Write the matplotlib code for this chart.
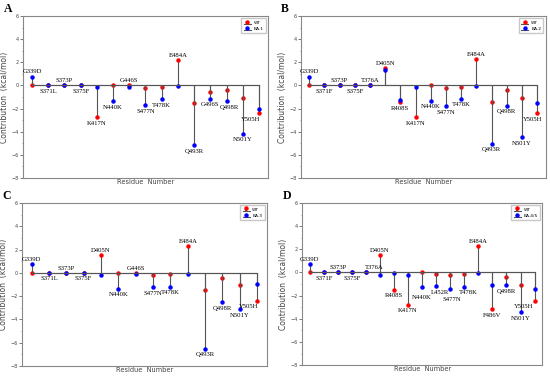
import matplotlib
matplotlib.use("Agg")
import matplotlib.pyplot as plt
from matplotlib.ticker import MultipleLocator

# panel A : WT vs BA.1
mut_a = ["G339D", "S371L", "S373P", "S375F", "K417N", "N440K", "G446S", "S477N",
         "T478K", "E484A", "Q493R", "G496S", "Q498R", "N501Y", "Y505H"]
wt_a = [0, 0, 0, 0, -2.75, 0, 0, -0.23, -0.14, 2.24, -1.49, -0.57, -0.43, -1.09, -2.41]
ba1 = [0.77, 0, 0, 0, -0.14, -1.35, -0.14, -1.72, -1.18, -0.09, -5.19, -1.15, -1.35, -4.19, -2.04]

# panel B : WT vs BA.2
mut_b = ["G339D", "S371F", "S373P", "S375F", "T376A", "D405N", "R408S", "K417N",
         "N440K", "S477N", "T478K", "E484A", "Q493R", "Q498R", "N501Y", "Y505H"]
wt_b = [0, 0, 0, 0, 0, 1.5, -1.47, -2.75, 0, -0.2, -0.1, 2.28, -1.47, -0.43, -1.1, -2.4]
ba2 = [0.77, 0, 0, 0, 0, 1.36, -1.3, -0.15, -1.33, -1.82, -1.16, -0.05, -5.06, -1.76, -4.48, -1.5]

# panel C : WT vs BA.3
mut_c = ["G339D", "S371L", "S373P", "S375F", "D405N", "N440K", "G446S", "S477N",
         "T478K", "E484A", "Q493R", "Q498R", "N501Y", "Y505H"]
wt_c = [0, 0, 0, 0, 1.49, 0, 0, -0.17, -0.11, 2.27, -1.49, -0.43, -1.09, -2.41]
ba3 = [0.75, 0, 0, 0, -0.23, -1.35, -0.11, -1.26, -1.2, -0.06, -6.51, -2.55, -3.13, -1.0]

# panel D : WT vs BA.4/5
mut_d = ["G339D", "S371F", "S373P", "S375F", "T376A", "D405N", "R408S", "K417N",
         "N440K", "L452R", "S477N", "T478K", "E484A", "F486V", "Q498R", "N501Y", "Y505H"]
wt_d = [0, 0, 0, 0, 0, 1.51, -1.51, -2.81, 0, -0.09, -0.23, -0.12, 2.26, -3.16, -0.43, -1.1, -2.43]
ba45 = [0.7, 0, 0, 0, 0, -0.23, -0.03, -0.2, -1.28, -1.19, -1.42, -1.22, -0.06, -1.1, -1.1, -3.42, -1.45]

# names written above their stem, all others go below
above_a = {"G339D", "S373P", "G446S", "E484A"}
above_b = {"G339D", "S373P", "T376A", "D405N", "E484A"}
above_c = {"G339D", "S373P", "D405N", "G446S", "E484A"}
above_d = {"G339D", "S373P", "T376A", "D405N", "E484A"}
# small nudges for a few names (points)
nudge_a = {"Y505H": (-6, 0), "Q498R": (2, 0)}
nudge_b = {"Y505H": (-3, 0)}
nudge_c = {"Y505H": (-6, 0)}
nudge_d = {"T376A": (6, 0), "N440K": (0, -3), "L452R": (3, 0), "S477N": (1, -3),
           "T478K": (3, 0), "Y505H": (-8, 0)}

plt.rcParams["font.family"] = "DejaVu Sans"

fig = plt.figure(figsize=(5.5, 3.76), dpi=100)

panels = [
    ("A", mut_a, wt_a, ba1, "BA.1", above_a, nudge_a, [0.042, 0.527, 0.445, 0.430]),
    ("B", mut_b, wt_b, ba2, "BA.2", above_b, nudge_b, [0.547, 0.527, 0.445, 0.430]),
    ("C", mut_c, wt_c, ba3, "BA.3", above_c, nudge_c, [0.040, 0.027, 0.445, 0.433]),
    ("D", mut_d, wt_d, ba45, "BA.4/5", above_d, nudge_d, [0.549, 0.029, 0.437, 0.431]),
]

grey = "#555555"
for letter, muts, wt, var, vname, above, nudge, rect in panels:
    ax = fig.add_axes(rect)
    x = list(range(len(muts)))
    s1 = ax.stem(x, wt, linefmt="-", markerfmt="o", basefmt="-", label="WT")
    s2 = ax.stem(x, var, linefmt="-", markerfmt="o", basefmt="-", label=vname)
    for s, c in [(s1, "red"), (s2, "blue")]:
        s.markerline.set_color(c)
        s.markerline.set_markersize(2.2)
        s.stemlines.set_color(grey)
        s.stemlines.set_linewidth(0.8)
        s.baseline.set_color(grey)
        s.baseline.set_linewidth(0.8)

    for i, m in enumerate(muts):
        dx, dy = nudge.get(m, (0, 0))
        if m in above:
            y = max(0, wt[i], var[i])
            ax.annotate(m, (i, y), xytext=(dx, 1.5 + dy), textcoords="offset points",
                        ha="center", va="bottom", fontsize=4.8,
                        family="Liberation Serif")
        else:
            y = min(0, wt[i], var[i])
            ax.annotate(m, (i, y), xytext=(dx, -2.5 + dy), textcoords="offset points",
                        ha="center", va="top", fontsize=4.8,
                        family="Liberation Serif")

    ax.set_xlim(-0.55, len(muts) - 0.45)
    ax.set_ylim(-8, 6)
    ax.yaxis.set_major_locator(MultipleLocator(2))
    ax.yaxis.set_minor_locator(MultipleLocator(1))
    ax.set_xticks([])
    ax.tick_params(axis="y", which="major", labelsize=3.5, length=2, width=0.5,
                   pad=1, colors="#444444")
    ax.tick_params(axis="y", which="minor", length=1, width=0.4, colors="#444444")
    for sp in ax.spines.values():
        sp.set_color("#888888")
        sp.set_linewidth(0.8)
    ax.set_ylabel("Contribution  (kcal/mol)", fontsize=5.5, color="#444444", labelpad=2)
    ax.set_xlabel("Residue  Number", fontsize=4.8, color="#444444", labelpad=1)
    ax.legend(loc="upper right", fontsize=3.2, handlelength=1.6, borderpad=0.5,
              labelspacing=0.5, handletextpad=0.6, frameon=True, fancybox=False,
              edgecolor="#bbbbbb")
    ax.text(-0.08, 1.008, letter, transform=ax.transAxes, fontsize=8.5,
            fontweight="bold", family="Liberation Serif", va="bottom", ha="left")

fig.savefig("out.png", dpi=100)
